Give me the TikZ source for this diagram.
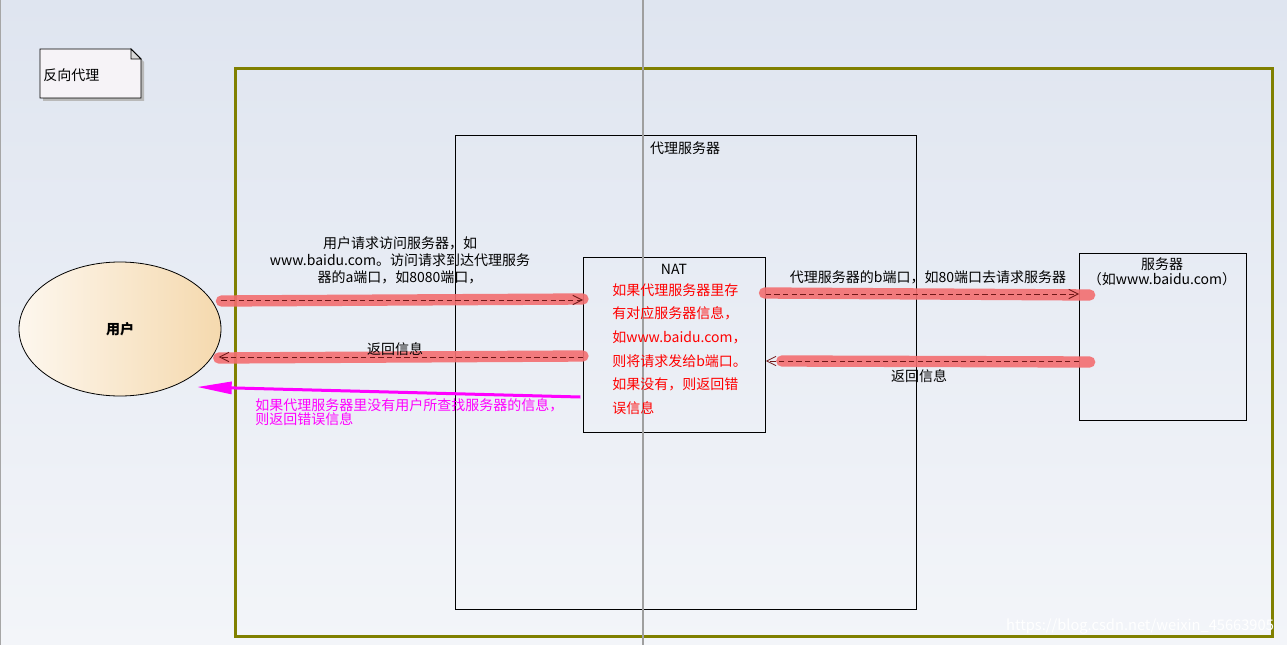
\documentclass[tikz,border=0pt]{standalone}
\usepackage{fontspec}
\setmainfont{Noto Sans CJK SC}
\usetikzlibrary{arrows.meta,shapes.geometric,positioning}

\definecolor{bgtop}{RGB}{223,229,240}
\definecolor{bgbot}{RGB}{243,245,249}
\definecolor{framecol}{RGB}{128,128,0}
\definecolor{hilite}{RGB}{243,110,112}
\definecolor{dashcol}{RGB}{112,24,24}
\definecolor{notefill}{RGB}{246,243,247}
\definecolor{userleft}{RGB}{253,247,238}
\definecolor{userright}{RGB}{245,217,174}
\definecolor{errcol}{RGB}{255,0,255}

\begin{document}
\begin{tikzpicture}[x=0.75pt, y=-0.75pt,
    box/.style={draw, line width=0.6pt, inner sep=0pt, anchor=north west},
    lbl/.style={inner sep=0pt, font=\fontsize{10.5}{12.75}\selectfont, align=center},
    glow/.style={hilite, line width=8.5pt, line cap=round, opacity=0.9},
    msg/.style={dashcol, line width=0.6pt, dash pattern=on 4pt off 2.5pt, -{Straight Barb[length=7pt,width=7pt]}}]
    \useasboundingbox (0,0) rectangle (1287,645);
    \shade[top color=bgtop, bottom color=bgbot] (0,0) rectangle (1287,645);
    \draw[gray!70, line width=1pt] (0.5,0) -- (0.5,645);

    % note in the corner
    \fill[gray!55] (43,52) -- (134,52) -- (144,62) -- (144,101) -- (43,101) -- cycle;
    \filldraw[fill=notefill, line width=0.6pt] (40,49) -- (131,49) -- (141,59) -- (141,98) -- (40,98) -- cycle;
    \filldraw[fill=gray!30, line width=0.6pt] (131,49) -- (131,59) -- (141,59) -- cycle;
    \node[lbl, anchor=west] (title) at (43,75) {反向代理};

    \node[box, draw=framecol, line width=2.4pt, minimum width=777.75pt, minimum height=426pt] (frame) at (234,67) {};
    \node[box, minimum width=345.75pt, minimum height=355.5pt] (proxy) at (455,135) {};
    \node[box, minimum width=136.5pt, minimum height=131.25pt] (nat) at (583,257) {};
    \node[box, minimum width=125.25pt, minimum height=125.25pt] (server) at (1079,253) {};
    \node[ellipse, draw, line width=0.6pt, minimum width=151.5pt, minimum height=100.5pt,
          left color=userleft, right color=userright, font=\fontsize{10.5}{12.75}\selectfont\bfseries] (user) at (120,329) {用户};

    \draw[gray!75, line width=1pt] (643,0) -- (643,645);

    \node[lbl] (proxyname) at (685,148) {代理服务器};
    \node[lbl] (natname) at (674,269) {NAT};
    \node[lbl, font=\fontsize{10.5}{11.25}\selectfont] (servername) at (1162,272) {服务器\\（如www.baidu.com）};
    \node[lbl, anchor=west, align=left, text=red, font=\fontsize{10.5}{17.7}\selectfont] (natrule) at (612,349)
        {如果代理服务器里存\\有对应服务器信息，\\如www.baidu.com，\\则将请求发给b端口。\\如果没有，则返回错\\误信息};

    % highlighted messages
    \draw[glow] (user.east |- 0,301) -- (nat.west |- 0,299);
    \draw[glow] (nat.west |- 0,356) -- ([xshift=-2pt]user.east |- 0,358);
    \draw[glow] ([xshift=-1pt]nat.east |- 0,293) -- ([xshift=8pt]server.west |- 0,295);
    \draw[glow] ([xshift=8pt]server.west |- 0,362) -- ([xshift=12pt]nat.east |- 0,361);

    \draw[msg] (user.east |- 0,300) -- (nat.west |- 0,300);
    \draw[msg] (nat.west |- 0,357) -- ([xshift=-2pt]user.east |- 0,357);
    \draw[msg] (nat.east |- 0,294) -- (server.west |- 0,294);
    \draw[msg] (server.west |- 0,361) -- (nat.east |- 0,361);

    \node[lbl] (askproxy) at (400,260) {用户请求访问服务器，如\\www.baidu.com。访问请求到达代理服务\\器的a端口，如8080端口，};
    \node[lbl] (backuser) at (395,349) {返回信息};
    \node[lbl] (askserver) at (928,277) {代理服务器的b端口，如80端口去请求服务器};
    \node[lbl] (backproxy) at (919,376) {返回信息};

    % error path
    \coordinate (lost) at (197,387);
    \draw[errcol, line width=2.25pt, -{Triangle[length=26pt,width=9pt]}] ([xshift=-2pt]nat.west |- 0,397) -- (lost);
    \node[lbl, anchor=west, align=left, text=errcol, font=\fontsize{10.5}{10.5}\selectfont] (errmsg) at (255,412)
        {如果代理服务器里没有用户所查找服务器的信息，\\则返回错误信息};

    \node[lbl, text=white, font=\fontsize{11}{13}\selectfont] (mark) at (1140,626) {https://blog.csdn.net/weixin\_45663905};
\end{tikzpicture}
\end{document}
